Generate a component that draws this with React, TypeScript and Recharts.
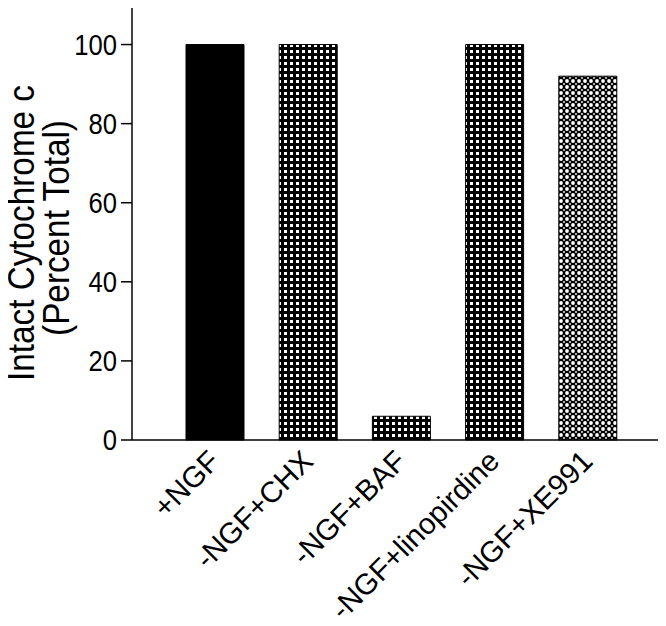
import React from "react";
import { BarChart, Bar, XAxis, YAxis, Cell } from "recharts";

const categories = ["+NGF", "-NGF+CHX", "-NGF+BAF", "-NGF+linopirdine", "-NGF+XE991"];
const values = [100, 100, 6, 100, 92];
const fills = ["#000", "url(#dotsA)", "url(#dotsA)", "url(#dotsA)", "url(#dotsB)"];
const yTicks = [0, 20, 40, 60, 80, 100];

const data = categories.map((c, i) => ({ name: c, value: values[i] }));

const FONT = "Arial, 'Liberation Sans', Helvetica, sans-serif";

const XTick = (props: any) => {
  const { x, y, payload } = props;
  const ax = x + 7;
  const ay = y + 15;
  return (
    <text
      transform={`translate(${ax} ${ay}) rotate(-45)`}
      textAnchor="end"
      fontSize={29.5}
      fontFamily={FONT}
      fill="#000"
    >
      {payload.value}
    </text>
  );
};

const YTick = (props: any) => {
  const { x, y, payload } = props;
  return (
    <text
      transform={`translate(${x} ${y + 10}) scale(0.95 1.08)`}
      textAnchor="end"
      fontSize={27}
      fontFamily={FONT}
      fill="#000"
    >
      {payload.value}
    </text>
  );
};

const YLabel = () => (
  <g>
    <text
      transform="translate(34 233) rotate(-90) scale(0.9 1)"
      textAnchor="middle"
      fontSize={37}
      fontFamily={FONT}
      fill="#000"
    >
      Intact Cytochrome c
    </text>
    <text
      transform="translate(69 228) rotate(-90) scale(0.9 1)"
      textAnchor="middle"
      fontSize={37}
      fontFamily={FONT}
      fill="#000"
    >
      (Percent Total)
    </text>
  </g>
);

export default function App() {
  return (
    <div style={{ marginLeft: -8, marginTop: -8, width: 666, height: 626, background: "#fff" }}>
      <BarChart width={666} height={626} data={data} margin={{ top: 0, right: 0, bottom: 0, left: 0 }}>
        <defs>
          <pattern id="dotsA" x={0} y={0} width={6} height={6} patternUnits="userSpaceOnUse">
            <rect x={0} y={0} width={6} height={6} fill="#000" />
            <rect x={2} y={2} width={3} height={3} fill="#fff" />
          </pattern>
          <pattern id="dotsB" x={0} y={0} width={6} height={6} patternUnits="userSpaceOnUse">
            <rect x={0} y={0} width={6} height={6} fill="#000" />
            <circle cx={3} cy={3} r={1.9} fill="#fff" />
            <circle cx={0} cy={0} r={0.9} fill="#fff" />
            <circle cx={6} cy={0} r={0.9} fill="#fff" />
            <circle cx={0} cy={6} r={0.9} fill="#fff" />
            <circle cx={6} cy={6} r={0.9} fill="#fff" />
          </pattern>
        </defs>
        <XAxis
          dataKey="name"
          height={186}
          interval={0}
          padding={{ left: 36, right: 27 }}
          tick={<XTick />}
          tickLine={false}
          axisLine={{ stroke: "#000", strokeWidth: 1.5 }}
        />
        <XAxis
          xAxisId="top"
          orientation="top"
          dataKey="name"
          height={5}
          tick={false}
          tickLine={false}
          axisLine={{ stroke: "#000", strokeWidth: 1.5 }}
        />
        <YAxis
          width={132}
          domain={[0, 110]}
          ticks={yTicks}
          tickSize={11}
          tickMargin={4}
          tick={<YTick />}
          axisLine={{ stroke: "#000", strokeWidth: 1.5 }}
          tickLine={{ stroke: "#000", strokeWidth: 1.5 }}
          label={<YLabel />}
        />
        <YAxis
          yAxisId="right"
          orientation="right"
          width={5}
          domain={[0, 110]}
          tick={false}
          tickLine={false}
          axisLine={{ stroke: "#000", strokeWidth: 1.5 }}
        />
        <Bar dataKey="value" barSize={58} stroke="#000" strokeWidth={1} isAnimationActive={false}>
          {data.map((d, i) => (
            <Cell key={d.name} fill={fills[i]} />
          ))}
        </Bar>
      </BarChart>
    </div>
  );
}
